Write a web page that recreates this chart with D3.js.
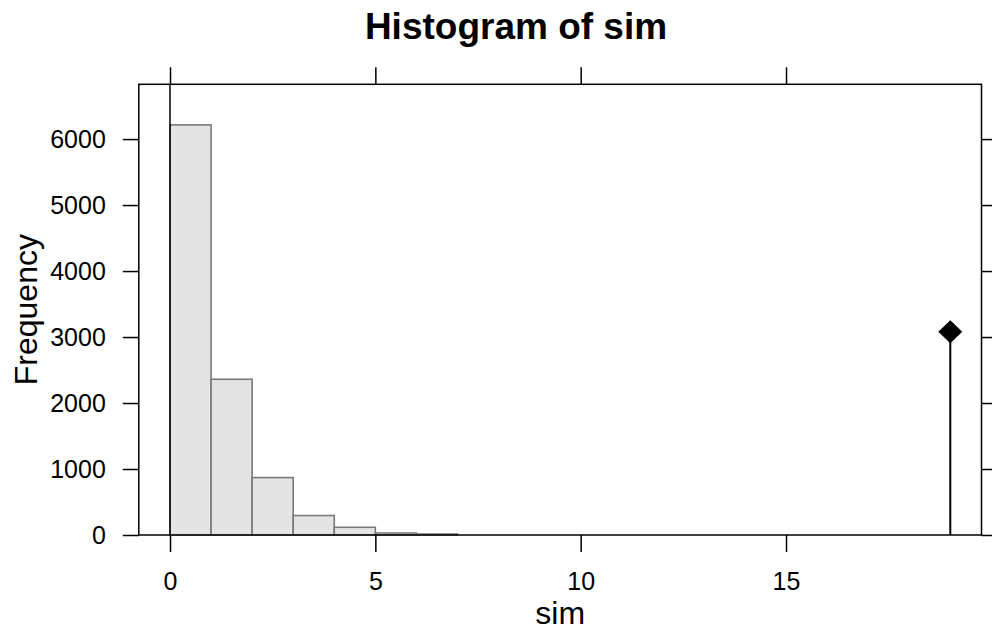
<!DOCTYPE html>
<html>
<head>
<meta charset="utf-8">
<title>Histogram of sim</title>
<script src="https://cdn.jsdelivr.net/npm/d3@7"></script>
<style>
    body { margin: 0; background: #fff; }
    svg text { font-family: "Liberation Sans", Arial, sans-serif; fill: #000; }
</style>
</head>
<body>
<svg width="992" height="635"></svg>
<script>
    // histogram bins (left edge, right edge) and counts
    var binStart = [0, 1, 2, 3, 4, 5, 6];
    var binEnd = [1, 2, 3, 4, 5, 6, 7];
    var counts = [6215, 2360, 870, 295, 117, 30, 15];

    // observed value marker
    var markX = [19];
    var markY = [3080];

    var xTicks = [0, 5, 10, 15];
    var yTicks = [0, 1000, 2000, 3000, 4000, 5000, 6000];

    var svg = d3.select("svg");

    var boxLeft = 138.8, boxRight = 981.5, boxTop = 84.3, boxBottom = 535;

    var x = d3.scaleLinear().domain([-0.76, 19.76]).range([boxLeft, boxRight]);
    var y = d3.scaleLinear().domain([0, 6830]).range([boxBottom, boxTop]);

    var bins = binStart.map(function(d, i) {
        return {x0: d, x1: binEnd[i], n: counts[i]};
    });

    // bars
    svg.append("g")
        .selectAll("rect")
        .data(bins)
        .enter().append("rect")
        .attr("x", function(d) { return x(d.x0); })
        .attr("y", function(d) { return y(d.n); })
        .attr("width", function(d) { return x(d.x1) - x(d.x0); })
        .attr("height", function(d) { return y(0) - y(d.n); })
        .attr("fill", "#e4e4e4")
        .attr("stroke", "#7a7a7a")
        .attr("stroke-width", 1.6);

    // reference line at zero
    svg.append("line")
        .attr("x1", x(0)).attr("x2", x(0))
        .attr("y1", boxTop).attr("y2", boxBottom)
        .attr("stroke", "#000")
        .attr("stroke-width", 1.5);

    // spike + diamond
    var marks = markX.map(function(d, i) { return {x: d, y: markY[i]}; });
    svg.append("g")
        .selectAll("line")
        .data(marks)
        .enter().append("line")
        .attr("x1", function(d) { return x(d.x); })
        .attr("x2", function(d) { return x(d.x); })
        .attr("y1", function(d) { return y(d.y); })
        .attr("y2", y(0))
        .attr("stroke", "#000")
        .attr("stroke-width", 2);

    svg.append("g")
        .selectAll("path")
        .data(marks)
        .enter().append("path")
        .attr("transform", function(d) { return "translate(" + x(d.x) + "," + y(d.y) + ")"; })
        .attr("d", "M0,-11.5L12,0L0,11.5L-12,0Z")
        .attr("fill", "#000");

    // axes
    function styleAxis(g) {
        g.select(".domain").remove();
        g.selectAll(".tick line").attr("stroke", "#000").attr("stroke-width", 1.5);
        g.selectAll(".tick text").attr("font-size", "25px").attr("fill", "#000");
    }

    svg.append("g")
        .attr("transform", "translate(0," + boxBottom + ")")
        .call(d3.axisBottom(x).tickValues(xTicks).tickSize(17).tickPadding(20).tickFormat(d3.format("d")))
        .call(styleAxis);

    svg.append("g")
        .attr("transform", "translate(0," + boxTop + ")")
        .call(d3.axisTop(x).tickValues(xTicks).tickSize(17).tickFormat(""))
        .call(styleAxis);

    svg.append("g")
        .attr("transform", "translate(" + boxLeft + ",0)")
        .call(d3.axisLeft(y).tickValues(yTicks).tickSize(16).tickPadding(17).tickFormat(d3.format("d")))
        .call(styleAxis);

    svg.append("g")
        .attr("transform", "translate(" + boxRight + ",0)")
        .call(d3.axisRight(y).tickValues(yTicks).tickSize(16).tickFormat(""))
        .call(styleAxis);

    // panel box
    svg.append("rect")
        .attr("x", boxLeft).attr("y", boxTop)
        .attr("width", boxRight - boxLeft).attr("height", boxBottom - boxTop)
        .attr("fill", "none")
        .attr("stroke", "#000")
        .attr("stroke-width", 1.5);

    // labels
    svg.append("text")
        .attr("x", 516).attr("y", 39)
        .attr("text-anchor", "middle")
        .attr("font-size", "37px")
        .attr("font-weight", "bold")
        .text("Histogram of sim");

    svg.append("text")
        .attr("x", (boxLeft + boxRight) / 2).attr("y", 624)
        .attr("text-anchor", "middle")
        .attr("font-size", "32px")
        .text("sim");

    svg.append("text")
        .attr("transform", "translate(37," + (boxTop + boxBottom) / 2 + ") rotate(-90)")
        .attr("text-anchor", "middle")
        .attr("font-size", "32px")
        .text("Frequency");
</script>
</body>
</html>
